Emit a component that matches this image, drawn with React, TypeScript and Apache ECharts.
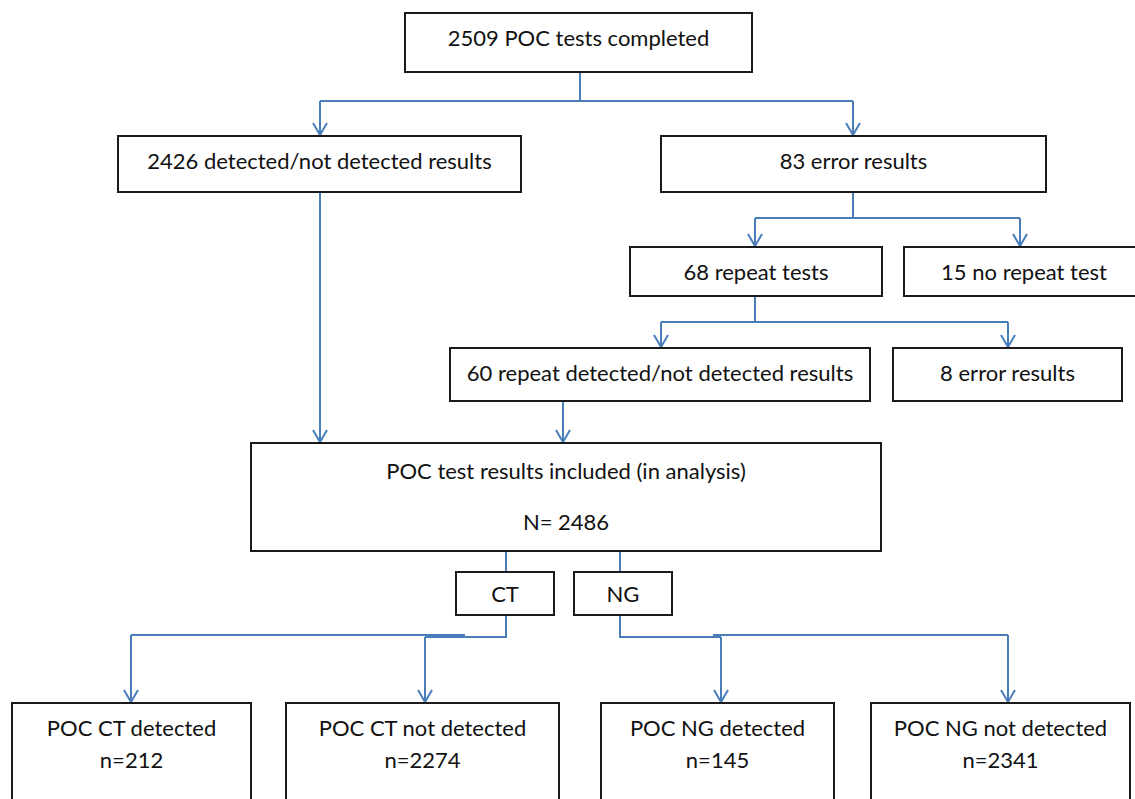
import React, { useEffect, useRef } from "react";
import * as echarts from "echarts";

// ---- Content (counts and labels) ----
const totalTests = 2509;
const detectedResults = 2426;
const errorResults = 83;
const repeatTests = 68;
const noRepeat = 15;
const repeatDetected = 60;
const repeatErrors = 8;
const included = 2486;
const ctDetected = 212;
const ctNotDetected = 2274;
const ngDetected = 145;
const ngNotDetected = 2341;

const boxLabels: string[][] = [
  [`${totalTests} POC tests completed`],
  [`${detectedResults} detected/not detected results`],
  [`${errorResults} error results`],
  [`${repeatTests} repeat tests`],
  [`${noRepeat} no repeat test`],
  [`${repeatDetected} repeat detected/not detected results`],
  [`${repeatErrors} error results`],
  ["POC test results included (in analysis)", `N= ${included}`],
  ["CT"],
  ["NG"],
  ["POC CT detected", `n=${ctDetected}`],
  ["POC CT not detected", `n=${ctNotDetected}`],
  ["POC NG detected", `n=${ngDetected}`],
  ["POC NG not detected", `n=${ngNotDetected}`],
];

// ---- Layout (positions only) ----
// [x, y, w, h, textY1, textY2]
const boxLayout: number[][] = [
  [405, 13, 347, 59, 37],
  [118, 136, 403, 56, 160],
  [661, 136, 385, 56, 160],
  [630, 247, 252, 49, 271],
  [904, 247, 240, 49, 271],
  [450, 348, 420, 53, 372],
  [893, 348, 229, 53, 372],
  [251, 443, 630, 108, 470, 521],
  [456, 572, 98, 43, 593],
  [574, 572, 98, 43, 593],
  [12, 703, 239, 120, 727, 759],
  [286, 703, 273, 120, 727, 759],
  [601, 703, 233, 120, 727, 759],
  [871, 703, 259, 120, 727, 759],
];

// connector polylines (no arrow)
const connectors: number[][][] = [
  [[580, 72], [580, 101]],
  [[320, 101], [853, 101]],
  [[853, 192], [853, 218]],
  [[755, 218], [1020, 218]],
  [[755, 296], [755, 322]],
  [[661, 322], [1008, 322]],
  [[506, 551], [506, 572]],
  [[620, 551], [620, 572]],
  [[506, 615], [506, 637], [425, 637]],
  [[131, 635], [465, 635]],
  [[620, 615], [620, 637], [721, 637]],
  [[713, 635], [1008, 635]],
];

// arrows: [x, yStart, yEnd]
const arrows: number[][] = [
  [320, 101, 136],
  [853, 101, 136],
  [755, 218, 247],
  [1020, 218, 247],
  [661, 322, 348],
  [1008, 322, 348],
  [320, 192, 443],
  [563, 401, 443],
  [131, 635, 703],
  [425, 637, 703],
  [721, 637, 703],
  [1008, 635, 703],
];

const LINE = "#4A7EBB";
const FONT = "Lato, 'Open Sans', sans-serif";

export default function App() {
  const ref = useRef<HTMLDivElement>(null);
  useEffect(() => {
    document.body.style.margin = "0";
    if (!ref.current) return;
    const chart = echarts.init(ref.current, null, { renderer: "svg" });
    const elements: any[] = [];
    connectors.forEach((pts) => {
      elements.push({
        type: "polyline",
        shape: { points: pts },
        style: { stroke: LINE, lineWidth: 2, fill: null },
        z: 1,
      });
    });
    arrows.forEach(([x, y0, y1]) => {
      elements.push({
        type: "line",
        shape: { x1: x, y1: y0, x2: x, y2: y1 - 1 },
        style: { stroke: LINE, lineWidth: 2 },
        z: 1,
      });
      elements.push({
        type: "polyline",
        shape: { points: [[x - 7, y1 - 13], [x, y1 - 1], [x + 7, y1 - 13]] },
        style: { stroke: LINE, lineWidth: 2, fill: null },
        z: 1,
      });
    });
    boxLayout.forEach((b, i) => {
      const [x, y, w, h, t1, t2] = b;
      elements.push({
        type: "rect",
        shape: { x, y, width: w, height: h },
        style: { stroke: "#1a1a1a", lineWidth: 2, fill: "#fff" },
        z: 2,
      });
      const labels = boxLabels[i];
      const ys = [t1, t2];
      labels.forEach((txt, j) => {
        elements.push({
          type: "text",
          x: x + w / 2,
          y: ys[j],
          style: {
            text: txt,
            font: `22px ${FONT}`,
            fill: "#111",
            textAlign: "center",
            textVerticalAlign: "middle",
          },
          z: 3,
        });
      });
    });
    chart.setOption({
      animation: false,
      backgroundColor: "#fff",
      graphic: { elements },
    });
    return () => chart.dispose();
  }, []);
  return <div ref={ref} style={{ width: 1135, height: 799 }} />;
}
